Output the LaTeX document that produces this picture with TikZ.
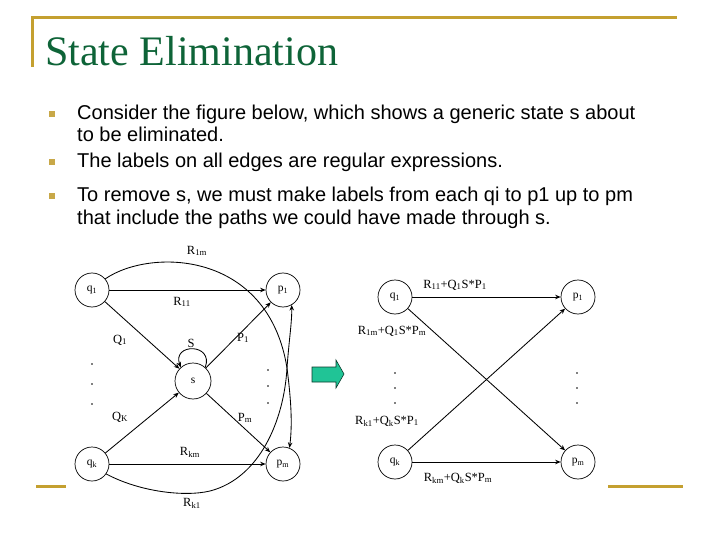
\documentclass[tikz,border=0pt]{standalone}
\usepackage{fontspec}
\setmainfont{Liberation Serif}
\newfontfamily\arialf{Liberation Sans}
\usetikzlibrary{arrows.meta}
\definecolor{goldline}{RGB}{196,160,48}
\definecolor{titlegreen}{RGB}{14,100,56}
\definecolor{bulletgold}{RGB}{200,168,72}
\definecolor{arrowgreen}{RGB}{32,196,150}
\begin{document}
\begin{tikzpicture}[x=1pt,y=-1pt,
  state/.style={circle,draw,line width=0.7pt,minimum size=34pt,inner sep=0pt,font=\fontsize{11.5}{13}\selectfont},
  lbl/.style={font=\fontsize{12.5}{14}\selectfont,inner sep=0pt},
  edge/.style={draw,-{Stealth[length=5.5pt,width=4.5pt]},line width=0.85pt},
  dotm/.style={circle,fill,inner sep=0pt,minimum size=1.6pt},
  bodytext/.style={anchor=base west,inner sep=0pt,font=\arialf\fontsize{20}{24}\selectfont},
  bulletsq/.style={fill=bulletgold,minimum size=6pt,inner sep=0pt}]
\useasboundingbox (0,0) rectangle (720,540);
\fill[white] (0,0) rectangle (720,540);

% frame lines
\draw[goldline,line width=3pt] (677,18) -- (32,18) -- (32,67);
\draw[goldline,line width=3pt] (36,486) -- (66,486);
\draw[goldline,line width=3pt] (608,486) -- (683,486);

% title
\node[anchor=base west,inner sep=0pt,text=titlegreen,font=\fontsize{42}{48}\selectfont] (title) at (45,66) {State Elimination};

% bullets and text
\node[bulletsq] (b1) at (52,114) {};
\node[bulletsq] (b2) at (52,162) {};
\node[bulletsq] (b3) at (52,196) {};
\node[bodytext] (t1) at (77,120) {Consider the figure below, which shows a generic state s about};
\node[bodytext] (t2) at (77,142) {to be eliminated.};
\node[bodytext] (t3) at (77,168) {The labels on all edges are regular expressions.};
\node[bodytext] (t4) at (77,202) {To remove s, we must make labels from each qi to p1 up to pm};
\node[bodytext] (t5) at (77,225) {that include the paths we could have made through s.};

% left diagram
\node[state] (q1) at (92,290) {q\textsubscript{1}};
\node[state] (p1) at (283,290) {p\textsubscript{1}};
\node[state,minimum size=36pt] (s) at (193,381) {s};
\node[state] (qk) at (92,464) {q\textsubscript{k}};
\node[state] (pm) at (283,464) {p\textsubscript{m}};

\draw[edge] (q1) -- (p1);
\draw[edge] (qk) -- (pm);
\draw[edge] (q1) -- (s);
\draw[edge] (qk) -- (s);
\draw[edge] (s) -- (p1);
\draw[edge] (s) -- (pm);
\draw[edge] (s.48) .. controls (214,343) and (172,343) .. (s.132);
\draw[edge] (q1.40) .. controls (150,248) and (268,250) .. (287,368)
   .. controls (290,392) and (293,420) .. (pm.68);
\draw[edge] (qk.-35) .. controls (140,492) and (185,497) .. (210,491)
   .. controls (260,478) and (284,420) .. (287,368)
   .. controls (289,340) and (292,322) .. (p1.-60);

\node[lbl] (l1m) at (197,251) {R\textsubscript{1m}};
\node[lbl] (l11) at (182,302) {R\textsubscript{11}};
\node[lbl] (lq1) at (120,340) {Q\textsubscript{1}};
\node[lbl] (lp1) at (243,338) {P\textsubscript{1}};
\node[lbl] (lS) at (191,343) {S};
\node[lbl] (lqk) at (120,417) {Q\textsubscript{K}};
\node[lbl] (lpm) at (245,418) {P\textsubscript{m}};
\node[lbl] (lkm) at (190,452) {R\textsubscript{km}};
\node[lbl] (lk1) at (192,503) {R\textsubscript{k1}};

\foreach \y [count=\i] in {364,384,404} {
  \node[dotm] (dl\i) at (92,\y) {};
}
\foreach \y [count=\i] in {370,386,403} {
  \node[dotm] (dm\i) at (268,\y) {};
}

% green arrow
\draw[fill=arrowgreen,draw=black!70!arrowgreen,line width=0.6pt]
  (312,367) -- (336,367) -- (336,360) -- (344,374) -- (336,388) -- (336,382) -- (312,382) -- cycle;

% right diagram
\node[state] (rq1) at (395,297) {q\textsubscript{1}};
\node[state] (rp1) at (578,297) {p\textsubscript{1}};
\node[state] (rqk) at (395,462) {q\textsubscript{k}};
\node[state] (rpm) at (578,462) {p\textsubscript{m}};

\draw[edge] (rq1) -- (rp1);
\draw[edge] (rqk) -- (rpm);
\draw[edge] (rq1) -- (rpm);
\draw[edge] (rqk) -- (rp1);

\node[lbl] (r11) at (455,285) {R\textsubscript{11}+Q\textsubscript{1}S*P\textsubscript{1}};
\node[lbl] (r1m) at (392,331) {R\textsubscript{1m}+Q\textsubscript{1}S*P\textsubscript{m}};
\node[lbl] (rk1) at (387,421) {R\textsubscript{k1}+Q\textsubscript{k}S*P\textsubscript{1}};
\node[lbl] (rkm) at (458,478) {R\textsubscript{km}+Q\textsubscript{k}S*P\textsubscript{m}};

\foreach \y [count=\i] in {373,388,403} {
  \node[dotm] (rdl\i) at (395,\y) {};
  \node[dotm] (rdr\i) at (577,\y) {};
}
\end{tikzpicture}
\end{document}
